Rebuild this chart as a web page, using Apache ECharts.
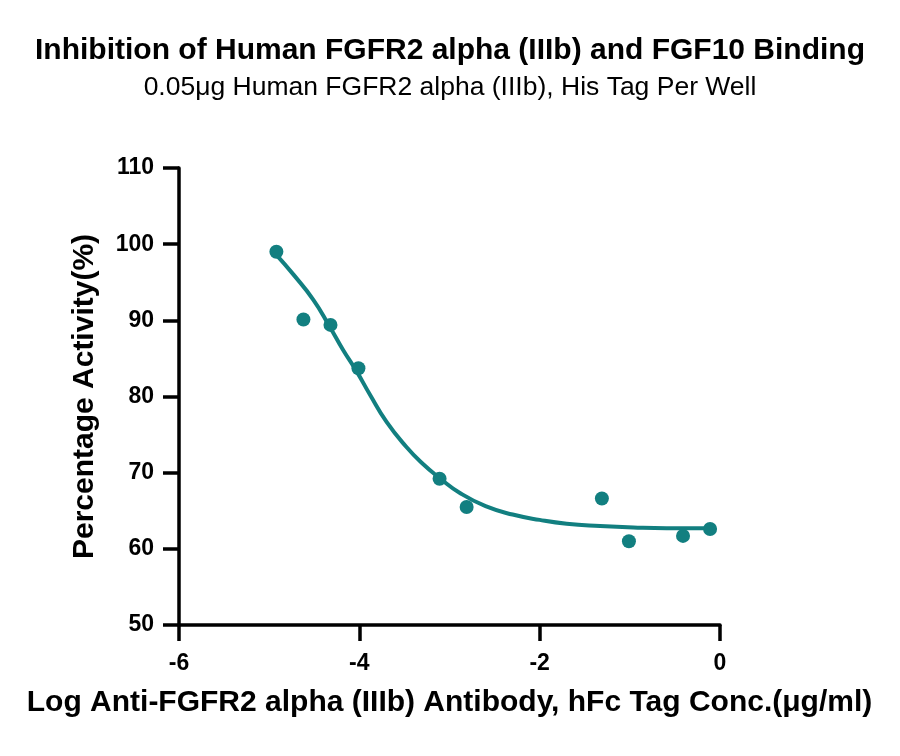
<!DOCTYPE html>
<html>
<head>
<meta charset="utf-8">
<script src="https://cdn.jsdelivr.net/npm/echarts@6/dist/echarts.min.js"></script>
<style>html,body{margin:0;padding:0;background:#fff}#c{width:900px;height:756px}</style>
</head>
<body>
<div id="c"></div>
<script>
var titleText = 'Inhibition of Human FGFR2 alpha (IIIb) and FGF10 Binding';
var subtitleText = '0.05\u03bcg Human FGFR2 alpha (IIIb), His Tag Per Well';
var xAxisTitle = 'Log Anti-FGFR2 alpha (IIIb) Antibody, hFc Tag Conc.(\u03bcg/ml)';
var yAxisTitle = 'Percentage Activity(%)';

var pointX = [-4.92, -4.62, -4.32, -4.01, -3.11, -2.81, -1.31, -1.01, -0.41, -0.11];
var pointY = [99.0, 90.1, 89.4, 83.7, 69.2, 65.5, 66.6, 61.0, 61.7, 62.6];

var curveX = [-4.92, -4.73, -4.51, -4.33, -4.18, -4.03, -3.88, -3.70, -3.48, -3.30, -3.11, -2.88, -2.60, -2.30, -2.00, -1.70, -1.33, -0.96, -0.59, -0.11];
var curveY = [98.6, 96.0, 92.7, 89.2, 86.1, 83.3, 80.2, 76.7, 73.4, 71.2, 69.3, 67.3, 65.6, 64.5, 63.8, 63.3, 63.0, 62.8, 62.7, 62.7];

var xMin = -6, xMax = 0, xStep = 2;
var yMin = 50, yMax = 110, yStep = 10;

var teal = '#127f80';
var font = 'Liberation Sans, Arial, sans-serif';

function pairs(xs, ys) { return xs.map(function (x, i) { return [x, ys[i]]; }); }

var chart = echarts.init(document.getElementById('c'), null, { renderer: 'canvas' });
chart.setOption({
  animation: false,
  backgroundColor: '#fff',
  title: [
    { text: titleText, left: 'center', top: 31, textStyle: { fontFamily: font, fontWeight: 'bold', fontSize: 30, color: '#000' } },
    { text: subtitleText, left: 'center', top: 69, textStyle: { fontFamily: font, fontWeight: 'normal', fontSize: 26.5, color: '#000' } }
  ],
  grid: { left: 179, right: 180, top: 168, bottom: 131, containLabel: false },
  xAxis: {
    type: 'value', min: xMin, max: xMax, interval: xStep,
    name: xAxisTitle, nameLocation: 'middle', nameGap: 63,
    nameTextStyle: { fontFamily: font, fontWeight: 'bold', fontSize: 30, color: '#000' },
    axisLine: { show: true, onZero: false, lineStyle: { color: '#000', width: 3.5 } },
    axisTick: { show: true, length: 16, lineStyle: { color: '#000', width: 3.5 } },
    axisLabel: { fontFamily: font, fontWeight: 'bold', fontSize: 23, color: '#000', margin: 27 },
    splitLine: { show: false }
  },
  yAxis: {
    type: 'value', min: yMin, max: yMax, interval: yStep, position: 'left',
    name: yAxisTitle, nameLocation: 'middle', nameGap: 79, nameRotate: 90,
    nameTextStyle: { fontFamily: font, fontWeight: 'bold', fontSize: 30, color: '#000' },
    axisLine: { show: true, onZero: false, lineStyle: { color: '#000', width: 3.5 } },
    axisTick: { show: true, length: 16, lineStyle: { color: '#000', width: 3.5 } },
    axisLabel: { fontFamily: font, fontWeight: 'bold', fontSize: 23, color: '#000', margin: 25 },
    splitLine: { show: false }
  },
  series: [
    {
      type: 'line', data: pairs(curveX, curveY), smooth: 0.5, showSymbol: false,
      lineStyle: { color: teal, width: 4 }, z: 2
    },
    {
      type: 'scatter', data: pairs(pointX, pointY), symbol: 'circle', symbolSize: 14,
      itemStyle: { color: teal, opacity: 1 }, z: 3
    }
  ]
});
</script>
</body>
</html>
